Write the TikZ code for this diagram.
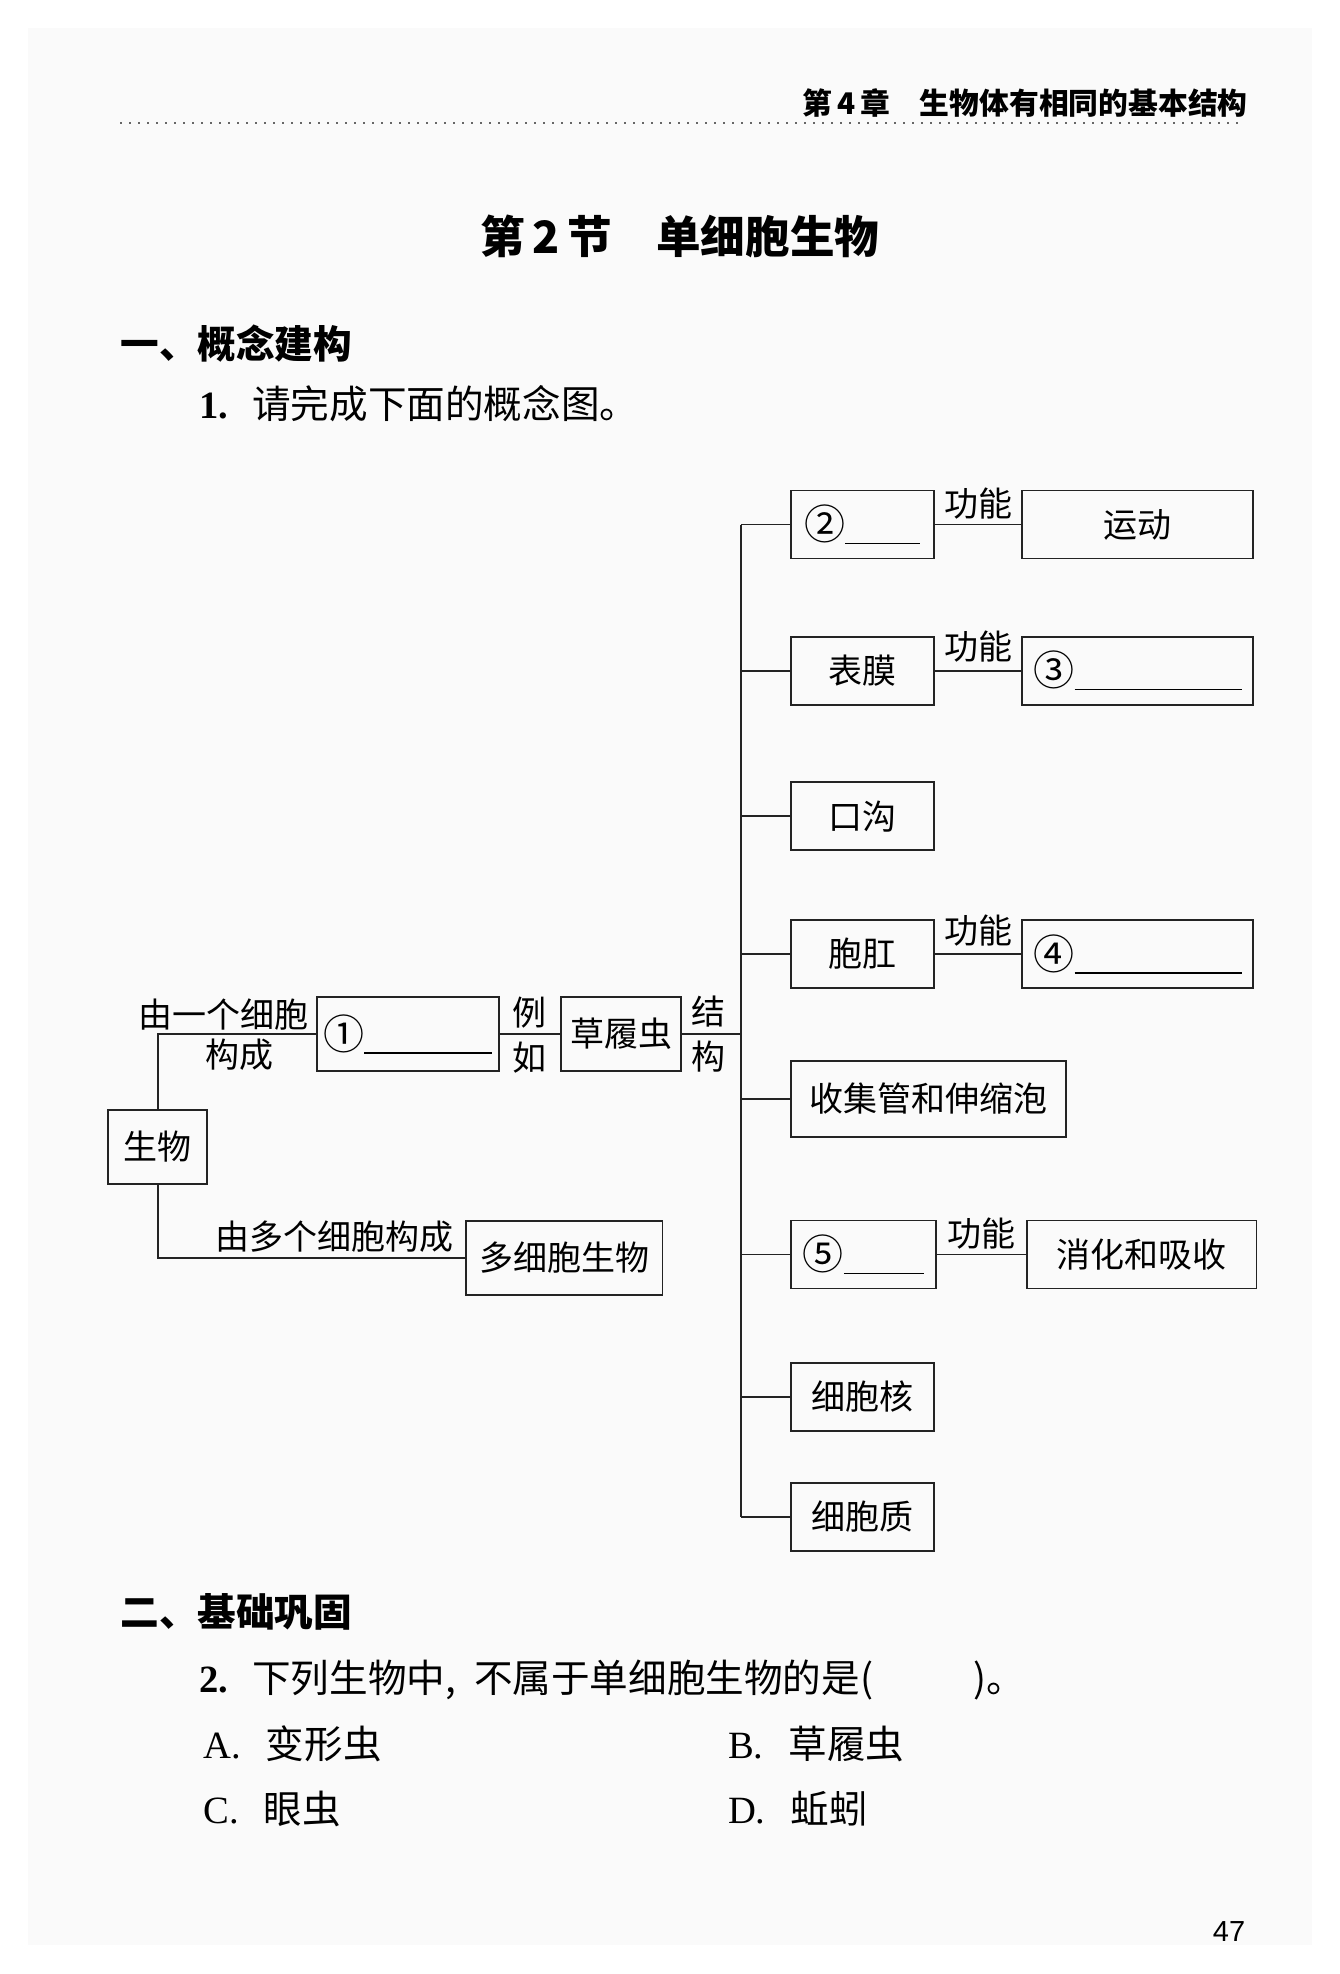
\documentclass[tikz,border=0pt]{standalone}
\usepackage{fontspec}
\setmainfont{Liberation Serif}
\newfontfamily\cjk{Noto Sans CJK SC}
\newfontfamily\pagenum{Liberation Sans}
\definecolor{pagebg}{RGB}{250,250,250}
\definecolor{ink}{RGB}{35,35,35}
\newcommand{\blank}[2]{{\fontsize{20.5pt}{20pt}\selectfont #1}\rule[-2.2pt]{#2}{0.6pt}}

\tikzset{
  box/.style={draw=ink, line width=0.9pt, inner sep=0pt, minimum width=71.6pt, minimum height=34pt,
    font=\cjk\fontsize{17pt}{20pt}\selectfont},
  funcbox/.style={box, minimum width=115.3pt},
  rel/.style={inner sep=0pt, font=\cjk\fontsize{17pt}{20pt}\selectfont},
  link/.style={draw=ink, line width=0.9pt},
  head/.style={inner sep=0pt, font=\cjk\bfseries\fontsize{19.3pt}{22pt}\selectfont},
  question/.style={inner sep=0pt, anchor=west, font=\fontsize{19.3pt}{22pt}\selectfont},
}

\begin{document}
\begin{tikzpicture}[x=0.5pt,y=-0.5pt]
		\useasboundingbox (0,0) rectangle (1339,1974);
		\fill[pagebg] (28,28) rectangle (1312,1945);

		% page head and title
		\node[inner sep=0pt,anchor=east,font=\cjk\bfseries\fontsize{14.9pt}{17pt}\selectfont] (Chapter) at (1248,103) {第\,4\,章\hspace{1em}生物体有相同的基本结构};
		\draw[black!60, line width=0.6pt, dash pattern=on 1pt off 3.5pt] (120,123) -- (1244,123);
		\node[inner sep=0pt,anchor=west,font=\cjk\bfseries\fontsize{22.3pt}{26pt}\selectfont] (Title) at (480,236) {第\,2\,节\hspace{1em}单细胞生物};
		\node[head,anchor=west] (PartOne) at (120,344) {一、概念建构};
		\node[question] (QOne) at (199,404) {\textbf{1.}\hspace{12pt}{\cjk 请完成下面的概念图。}};

		% concept map
		\node[box,minimum width=49.5pt,minimum height=37pt] (Organism) at (157.8,1147) {生物};
		\node[box,minimum width=91pt,minimum height=37pt] (Single) at (407.6,1034) {\blank{①}{64pt}};
		\node[box,minimum width=60.3pt,minimum height=37pt] (Paramecium) at (621,1034) {草履虫};
		\node[box,minimum width=98.3pt,minimum height=37pt] (Multi) at (564.2,1258) {多细胞生物};

		\node[box] (Cilia) at (862.4,524.5) {\blank{②}{37.5pt}};
		\node[box] (Pellicle) at (862.4,670.6) {表膜};
		\node[box] (OralGroove) at (862.4,816.3) {口沟};
		\node[box] (AnalPore) at (862.4,954) {胞肛};
		\node[box,minimum width=137.5pt,minimum height=38pt] (Vacuole) at (928.5,1098.7) {收集管和伸缩泡};
		\node[box,minimum width=72.4pt] (FoodVacuole) at (863.4,1254.5) {\blank{⑤}{40pt}};
		\node[box] (Nucleus) at (862.4,1397) {细胞核};
		\node[box] (Cytoplasm) at (862.4,1517) {细胞质};

		\node[funcbox] (Motion) at (1137.5,524.5) {运动};
		\node[funcbox] (Protect) at (1137.5,670.6) {\blank{③}{83.5pt}};
		\node[funcbox] (Excrete) at (1137.5,954) {\blank{④}{83.5pt}};
		\node[funcbox,minimum width=114.8pt] (Digest) at (1141.6,1254.5) {消化和吸收};

		\coordinate (Trunk) at (741,1034);

		\draw[link] (Organism.north) |- (Single.west);
		\draw[link] (Organism.south) |- (Multi.west);
		\draw[link] (Single) -- (Paramecium);
		\draw[link] (Paramecium) -- (Trunk);
		\draw[link] (Trunk |- Cilia.west) -- (Trunk |- Cytoplasm.west);
		\foreach \part in {Cilia,Pellicle,OralGroove,AnalPore,Vacuole,FoodVacuole,Nucleus,Cytoplasm}
			\draw[link] (Trunk |- \part.west) -- (\part.west);
		\draw[link] (Cilia) -- (Motion);
		\draw[link] (Pellicle) -- (Protect);
		\draw[link] (AnalPore) -- (Excrete);
		\draw[link] (FoodVacuole) -- (Digest);

		\node[rel] (OneCellA) at (223.5,1015) {由一个细胞};
		\node[rel] (OneCellB) at (239.5,1055) {构成};
		\node[rel] (ManyCell) at (334.5,1237) {由多个细胞构成};
		\node[rel] (ExA) at (529.5,1013) {例};
		\node[rel] (ExB) at (529.5,1058) {如};
		\node[rel] (StructA) at (708.8,1012) {结};
		\node[rel] (StructB) at (708.8,1057) {构};
		\node[rel] (FuncA) at (978.3,504) {功能};
		\node[rel] (FuncB) at (978.3,647) {功能};
		\node[rel] (FuncC) at (978.3,931) {功能};
		\node[rel] (FuncD) at (981.3,1234) {功能};

		% second part
		\node[head,anchor=west] (PartTwo) at (120,1612) {二、基础巩固};
		\node[question] (QTwo) at (199,1680) {\textbf{2.}\hspace{12pt}{\cjk 下列生物中,\hspace{9pt}不属于单细胞生物的是(\hspace{2.6em})。}};
		\node[question] (OptA) at (203,1744) {A.\hspace{12.5pt}{\cjk 变形虫}};
		\node[question] (OptB) at (727.6,1744) {B.\hspace{12.5pt}{\cjk 草履虫}};
		\node[question] (OptC) at (203,1809) {C.\hspace{12.5pt}{\cjk 眼虫}};
		\node[question] (OptD) at (727.6,1809) {D.\hspace{12.5pt}{\cjk 蚯蚓}};

		\node[inner sep=0pt,font=\pagenum\fontsize{14.5pt}{17pt}\selectfont] (PageNo) at (1229,1931) {47};
\end{tikzpicture}
\end{document}
